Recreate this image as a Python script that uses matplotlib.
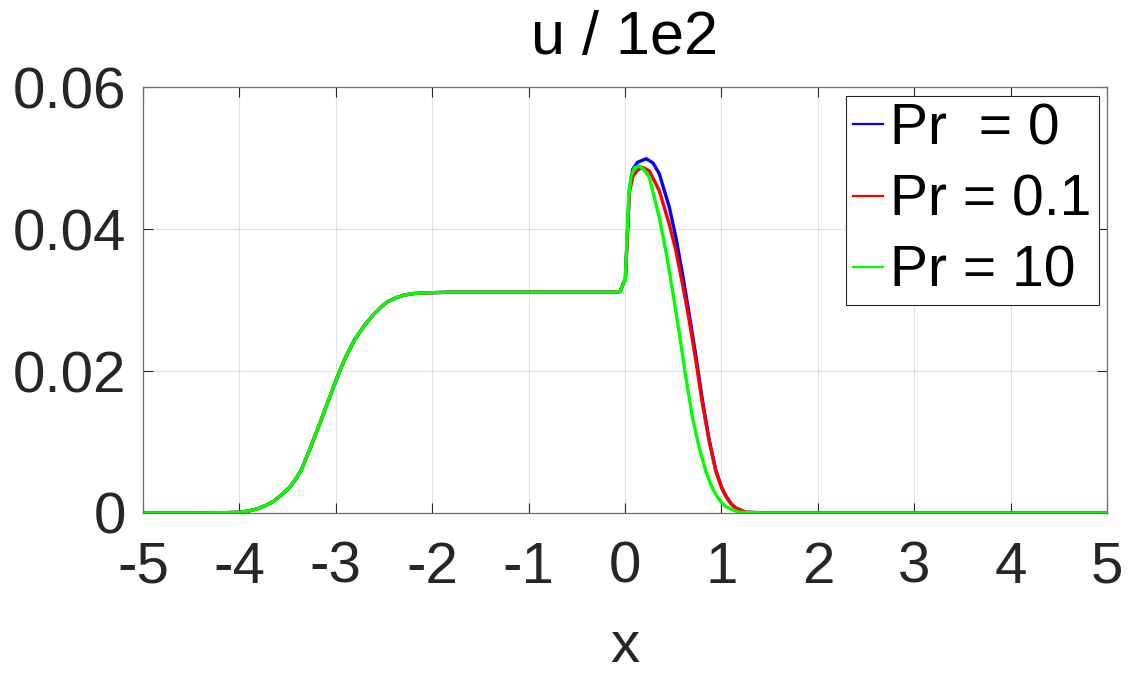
import numpy as np
import matplotlib.pyplot as plt

plt.rcParams['font.family'] = ['Liberation Sans', 'DejaVu Sans']
plt.rcParams['axes.unicode_minus'] = False

# shared part (all three curves coincide for x < 0)
x_left = [-5.0, -4.5, -4.2, -4.0, -3.9, -3.81, -3.72, -3.64, -3.56, -3.48, -3.42, -3.36,
          -3.26, -3.155, -3.05, -2.98, -2.91, -2.81, -2.71, -2.6, -2.53, -2.47, -2.38,
          -2.29, -2.2, -2.09, -1.95, -1.81, -1.0, -0.1, -0.05, -0.017]
u_left = [0.0, 0.0, 0.00003, 0.0001, 0.0003, 0.0006, 0.0011, 0.0017, 0.0026, 0.0036,
          0.0047, 0.006, 0.0093, 0.013, 0.0168, 0.0193, 0.0216, 0.0243, 0.0263, 0.0281,
          0.0290, 0.0297, 0.0303, 0.0307, 0.0309, 0.0310, 0.03105, 0.0311, 0.0311, 0.0311,
          0.0312, 0.0324]

# Pr = 0
x_pr0 = [0.003, 0.017, 0.045, 0.08, 0.13, 0.22, 0.29, 0.355, 0.459, 0.528, 0.597, 0.666,
         0.735, 0.804, 0.873, 0.942, 1.0, 1.045, 1.1, 1.149, 1.252, 1.5, 2.0, 3.0, 4.0, 5.0]
u_pr0 = [0.0328, 0.0370, 0.0455, 0.0484, 0.0494, 0.0499, 0.0493, 0.0478, 0.0431, 0.0388,
         0.0336, 0.0280, 0.0221, 0.0158, 0.0103, 0.0060, 0.0037, 0.0024, 0.0013, 0.0007,
         0.0001, 0.0, 0.0, 0.0, 0.0, 0.0]

# Pr = 0.1
x_pr01 = [0.003, 0.017, 0.045, 0.08, 0.13, 0.18, 0.252, 0.355, 0.459, 0.528, 0.597, 0.666,
          0.735, 0.804, 0.873, 0.942, 1.0, 1.045, 1.1, 1.149, 1.252, 1.5, 2.0, 3.0, 4.0, 5.0]
u_pr01 = [0.0328, 0.0370, 0.0451, 0.0474, 0.0483, 0.0487, 0.0482, 0.0454, 0.0407, 0.0369,
          0.0322, 0.0271, 0.0214, 0.0153, 0.0101, 0.0059, 0.0036, 0.0024, 0.0013, 0.0007,
          0.0001, 0.0, 0.0, 0.0, 0.0, 0.0]

# Pr = 10
x_pr10 = [0.003, 0.017, 0.038, 0.062, 0.097, 0.148, 0.20, 0.252, 0.355, 0.424, 0.493, 0.562,
          0.631, 0.70, 0.769, 0.838, 0.89, 0.942, 1.0, 1.045, 1.18, 1.5, 2.0, 3.0, 4.0, 5.0]
u_pr10 = [0.0328, 0.0376, 0.0446, 0.0474, 0.0486, 0.0489, 0.0483, 0.0473, 0.0416, 0.0369,
          0.0313, 0.0254, 0.0191, 0.0134, 0.0092, 0.0059, 0.0040, 0.0026, 0.0015, 0.0009,
          0.0001, 0.0, 0.0, 0.0, 0.0, 0.0]

labels = ['Pr  = 0', 'Pr = 0.1', 'Pr = 10']
line_colors = ['#0000ff', '#ff0000', '#00ff00']

fig = plt.figure(figsize=(11.33, 6.75), dpi=100)
ax = fig.add_axes([0.1262, 0.24, 0.8509, 0.6311])

series = [(x_pr0, u_pr0), (x_pr01, u_pr01), (x_pr10, u_pr10)]
for (xs, us), lab, col in zip(series, labels, line_colors):
    ax.plot(x_left + xs, u_left + us, color=col, lw=2.4, label=lab,
            solid_joinstyle='round')

ax.set_xlim(-5, 5)
ax.set_ylim(0, 0.06)
ax.set_xticks(np.arange(-5, 6, 1))
ax.set_yticks([0, 0.02, 0.04, 0.06])
ax.set_yticklabels(['0', '0.02', '0.04', '0.06'])
ax.grid(True, color='#262626', alpha=0.13, lw=0.8)
ax.tick_params(direction='in', length=7, width=0.8, colors='#262626',
               labelsize=42, top=True, right=True)
ax.tick_params(axis='x', pad=20)
ax.tick_params(axis='y', pad=12)
for sp in ax.spines.values():
    sp.set_color('#6e6e6e')
    sp.set_linewidth(0.9)

ax.set_title('u / 1e2', fontsize=44, color='#000000', pad=24)
ax.set_xlabel('x', fontsize=42, color='#262626', labelpad=18)

leg = ax.legend(loc='upper right', fontsize=41, handlelength=0.53, handletextpad=0.12,
                borderpad=0.12, labelspacing=0.3, borderaxespad=0.15, fancybox=False,
                framealpha=1)
leg.get_frame().set_edgecolor('#262626')
leg.get_frame().set_linewidth(0.8)
for h in leg.get_lines():
    h.set_linewidth(1.6)

fig.savefig('out.png', dpi=100)
